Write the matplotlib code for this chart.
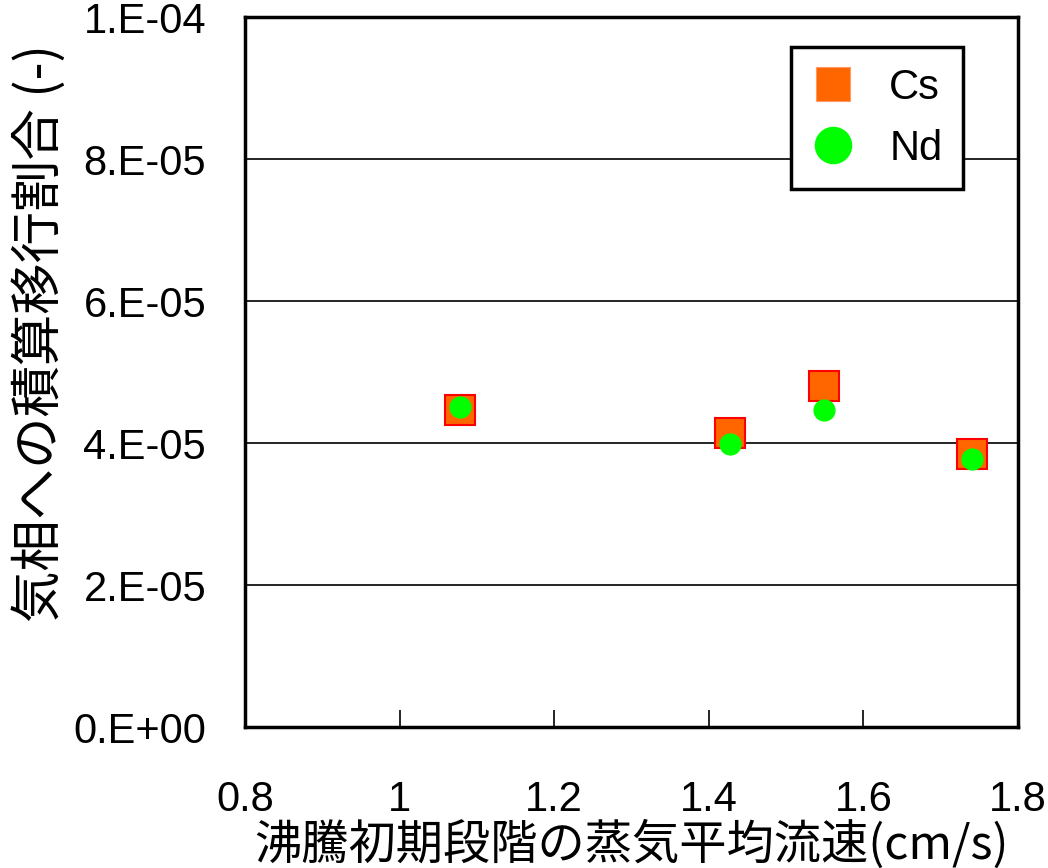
import matplotlib
matplotlib.use("Agg")
import matplotlib.pyplot as plt
from matplotlib.lines import Line2D

plt.rcParams['font.family'] = ['Noto Sans CJK JP', 'DejaVu Sans']

# steam velocity (cm/s) and transfer fraction (-)
cs_x = [1.078, 1.428, 1.549, 1.741]
cs_y = [4.46e-05, 4.14e-05, 4.81e-05, 3.84e-05]
nd_x = [1.078, 1.428, 1.549, 1.741]
nd_y = [4.51e-05, 3.98e-05, 4.46e-05, 3.77e-05]

x_ticks = [0.8, 1.0, 1.2, 1.4, 1.6, 1.8]
x_labels = ["0.8", "1", "1.2", "1.4", "1.6", "1.8"]
y_ticks = [0, 2e-05, 4e-05, 6e-05, 8e-05, 1e-04]
y_labels = ["0.E+00", "2.E-05", "4.E-05", "6.E-05", "8.E-05", "1.E-04"]

CS_FACE = "#FF6600"
CS_EDGE = "#FF0000"
ND_FACE = "#00FF00"
LATIN = ["Liberation Sans", "DejaVu Sans"]

fig = plt.figure(figsize=(10.48, 8.68), dpi=100)
ax = fig.add_axes([0.2338, 0.1624, 0.9714 - 0.2338, 0.9804 - 0.1624])

ax.plot(cs_x, cs_y, linestyle="none", marker="s", markersize=21,
        markerfacecolor=CS_FACE, markeredgecolor=CS_EDGE, markeredgewidth=1.5, zorder=3)
ax.plot(nd_x, nd_y, linestyle="none", marker="o", markersize=16,
        markerfacecolor=ND_FACE, markeredgecolor=ND_FACE, markeredgewidth=0, zorder=4)

ax.set_xlim(0.8, 1.8)
ax.set_ylim(0, 1e-04)
ax.set_xticks(x_ticks)
ax.set_xticklabels(x_labels, family=LATIN)
ax.set_yticks(y_ticks)
ax.set_yticklabels(y_labels, family=LATIN)

ax.yaxis.grid(True, color="black", linewidth=1.2)
ax.set_axisbelow(True)
for s in ax.spines.values():
    s.set_linewidth(2.5)
    s.set_color("black")

ax.tick_params(axis="x", direction="in", length=12, width=1.2, pad=38, labelsize=30)
ax.tick_params(axis="y", length=0, pad=28, labelsize=30)

ax.set_xlabel("沸騰初期段階の蒸気平均流速(cm/s)", fontsize=34, va="center")
ax.xaxis.set_label_coords(0.5, -0.166)
ax.set_ylabel("気相への積算移行割合 (-)", fontsize=37, va="center")
ax.yaxis.set_label_coords(-0.265, 0.555)

handles = [
    Line2D([], [], linestyle="none", marker="s", markersize=24,
           markerfacecolor=CS_FACE, markeredgecolor="#FF9966", markeredgewidth=0.8),
    Line2D([], [], linestyle="none", marker="o", markersize=27,
           markerfacecolor=ND_FACE, markeredgecolor=ND_FACE, markeredgewidth=0),
]
leg = ax.legend(handles, ["Cs", "Nd"], loc="upper right", bbox_to_anchor=(0.929, 0.958),
                prop={"family": LATIN, "size": 30}, frameon=True, fancybox=False,
                framealpha=1, edgecolor="black", handletextpad=0.85, handlelength=1.0,
                borderpad=0.5, labelspacing=0.5, borderaxespad=0)
leg.get_frame().set_linewidth(2.5)

fig.savefig("out.png", dpi=100)
